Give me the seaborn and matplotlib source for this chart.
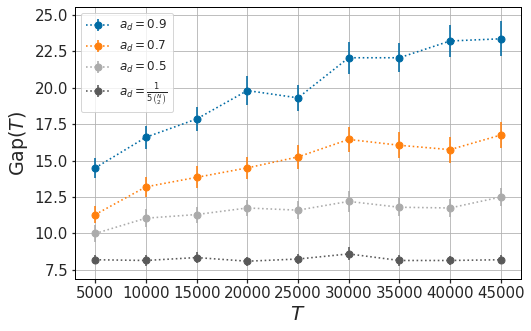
import matplotlib
matplotlib.use("Agg")
import matplotlib.pyplot as plt
import seaborn as sns
import numpy as np

# values
T = [5000, 10000, 15000, 20000, 25000, 30000, 35000, 40000, 45000]

gap_09 = [14.5, 16.6, 17.85, 19.8, 19.3, 22.05, 22.05, 23.2, 23.35]
err_09 = [0.7, 0.8, 0.8, 1.0, 0.9, 1.1, 1.0, 1.1, 1.2]

gap_07 = [11.3, 13.2, 13.85, 14.5, 15.25, 16.45, 16.05, 15.75, 16.75]
err_07 = [0.6, 0.7, 0.75, 0.75, 0.85, 0.85, 0.9, 0.9, 0.9]

gap_05 = [10.0, 11.05, 11.3, 11.75, 11.6, 12.2, 11.8, 11.75, 12.5]
err_05 = [0.55, 0.6, 0.55, 0.55, 0.6, 0.7, 0.6, 0.6, 0.6]

gap_min = [8.2, 8.15, 8.35, 8.1, 8.25, 8.6, 8.15, 8.15, 8.2]
err_min = [0.3, 0.35, 0.35, 0.3, 0.35, 0.45, 0.35, 0.3, 0.3]

labels = [r"$a_d=0.9$", r"$a_d=0.7$", r"$a_d=0.5$", r"$a_d=\frac{1}{5\binom{N}{2}}$"]
colors = ["#006BA4", "#FF800E", "#ABABAB", "#595959"]

sns.set_theme(style="ticks", rc={
    "axes.grid": True,
    "grid.color": "#b0b0b0",
    "grid.linewidth": 0.8,
    "axes.edgecolor": "black",
    "axes.linewidth": 1.0,
    "xtick.major.size": 3.5,
    "ytick.major.size": 3.5,
    "legend.frameon": True,
})
plt.rcParams["font.family"] = ["DejaVu Sans"]

fig, ax = plt.subplots(figsize=(531 / 72, 331 / 72), dpi=72)

series = [(gap_09, err_09), (gap_07, err_07), (gap_05, err_05), (gap_min, err_min)]
for (y, e), lab, c in zip(series, labels, colors):
    cont = ax.errorbar(T, y, yerr=e, fmt="o:", color=c, markersize=7,
                       elinewidth=2, linewidth=1.6, label=lab)
    for bar in cont[2]:
        bar.set_alpha(0.8)

ax.set_ylim(6.88, 25.53)
ax.set_xticks(T)
ax.tick_params(labelsize=15)
ax.set_xlabel(r"$T$", fontsize=20)
ax.set_ylabel(r"Gap($T$)", fontsize=19)
ax.legend(loc="upper left", fontsize=12)

fig.subplots_adjust(left=75 / 531, right=521 / 531, top=1 - 7 / 331, bottom=1 - 279 / 331)
fig.savefig("out.png", dpi=72)
